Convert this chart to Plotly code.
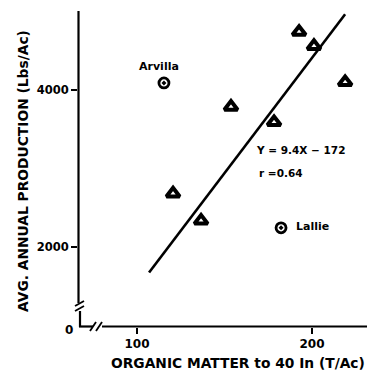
import plotly.graph_objects as go

# ---- data ----
site_x = [120.6, 136.6, 153.7, 178.3, 192.6, 201.1, 218.9]
site_y = [2680, 2335, 3785, 3590, 4740, 4560, 4100]
outlier_names = ["Arvilla", "Lallie"]
outlier_x = [115.4, 182.3]
outlier_y = [4090, 2245]
fit_x = [106.9, 218.9]
fit_y = [1675, 4966]
x_ticks = [100, 200]
y_ticks = [2000, 4000]
eq_text = ["Y = 9.4X \u2212 172", "r =0.64"]

W, H = 367, 375
L, R, T, B = 78, 0, 12, 48
PW, PH = W - L - R, H - T - B
XR = [66.3, 231.4]
YR = [981, 4994]

FONT = "DejaVu Sans, sans-serif"


def px(xp, yp):
    return (xp - L) / PW, (H - B - yp) / PH


fig = go.Figure()
fig.add_trace(go.Scatter(x=fit_x, y=fit_y, mode="lines",
                         line=dict(color="black", width=2.6), hoverinfo="skip"))
fig.add_trace(go.Scatter(x=site_x, y=site_y, mode="markers",
                         marker=dict(symbol="triangle-up-open", size=11.5, color="black",
                                     line=dict(color="black", width=4))))
fig.add_trace(go.Scatter(x=outlier_x, y=outlier_y, mode="markers",
                         marker=dict(symbol="circle-open-dot", size=10, color="black",
                                     line=dict(color="black", width=2.8))))

shapes = []


def seg(x0, y0, x1, y1, w=2.2):
    a = px(x0, y0)
    b = px(x1, y1)
    shapes.append(dict(type="line", xref="paper", yref="paper", x0=a[0], y0=a[1],
                       x1=b[0], y1=b[1], line=dict(color="black", width=w)))


# y axis with break
seg(78.5, 11, 78.5, 303)
seg(80, 311, 80, 327)
seg(75, 306, 84, 301, 1.8)
seg(75, 311, 84, 306, 1.8)
# x axis with break
seg(79, 326.5, 93, 326.5)
seg(102, 326.5, 367, 326.5)
seg(90, 331, 96, 322, 1.8)
seg(96, 331, 102, 322, 1.8)

ann = []


def f(size):
    return dict(family=FONT, size=size, color="black", weight="bold")


ann.append(dict(x=outlier_x[0], y=outlier_y[0], text=outlier_names[0], showarrow=False,
                xanchor="center", yanchor="middle", xshift=-5, yshift=16, font=f(11)))
ann.append(dict(x=outlier_x[1], y=outlier_y[1], text=outlier_names[1], showarrow=False,
                xanchor="left", yanchor="middle", xshift=13, yshift=1, font=f(11)))
ann.append(dict(x=167.0, y=3238, text=eq_text[0], showarrow=False, xanchor="left",
                yanchor="middle", font=f(10.5)))
ann.append(dict(x=168.8, y=2945, text=eq_text[1], showarrow=False, xanchor="left",
                yanchor="middle", font=f(10.5)))
# broken-axis zero label
zx, zy = px(69, 330)
ann.append(dict(x=zx, y=zy, xref="paper", yref="paper", text="0", showarrow=False,
                xanchor="center", yanchor="middle", font=f(12)))
# axis titles
tx, ty = px(238, 363)
ann.append(dict(x=tx, y=ty, xref="paper", yref="paper", text="ORGANIC MATTER to 40 In (T/Ac)",
                xanchor="center", yanchor="middle", showarrow=False, font=f(13.8)))
yx, yy = px(23, 171)
ann.append(dict(x=yx, y=yy, xref="paper", yref="paper", text="AVG. ANNUAL PRODUCTION (Lbs/Ac)",
                xanchor="center", yanchor="middle", showarrow=False, textangle=-90, font=f(13.8)))

fig.update_layout(
    width=W, height=H, margin=dict(l=L, r=R, t=T, b=B, pad=0),
    plot_bgcolor="white", paper_bgcolor="white", showlegend=False,
    shapes=shapes, annotations=ann,
    xaxis=dict(range=XR, tickvals=x_ticks, ticks="outside", ticklen=6, tickwidth=2,
               tickcolor="black", showgrid=False, zeroline=False, showline=False,
               tickfont=f(12)),
    yaxis=dict(range=YR, tickvals=y_ticks, ticks="outside", ticklen=6, tickwidth=2,
               tickcolor="black", showgrid=False, zeroline=False, showline=False,
               tickfont=f(11.5)),
)
fig.write_html("out.html")
